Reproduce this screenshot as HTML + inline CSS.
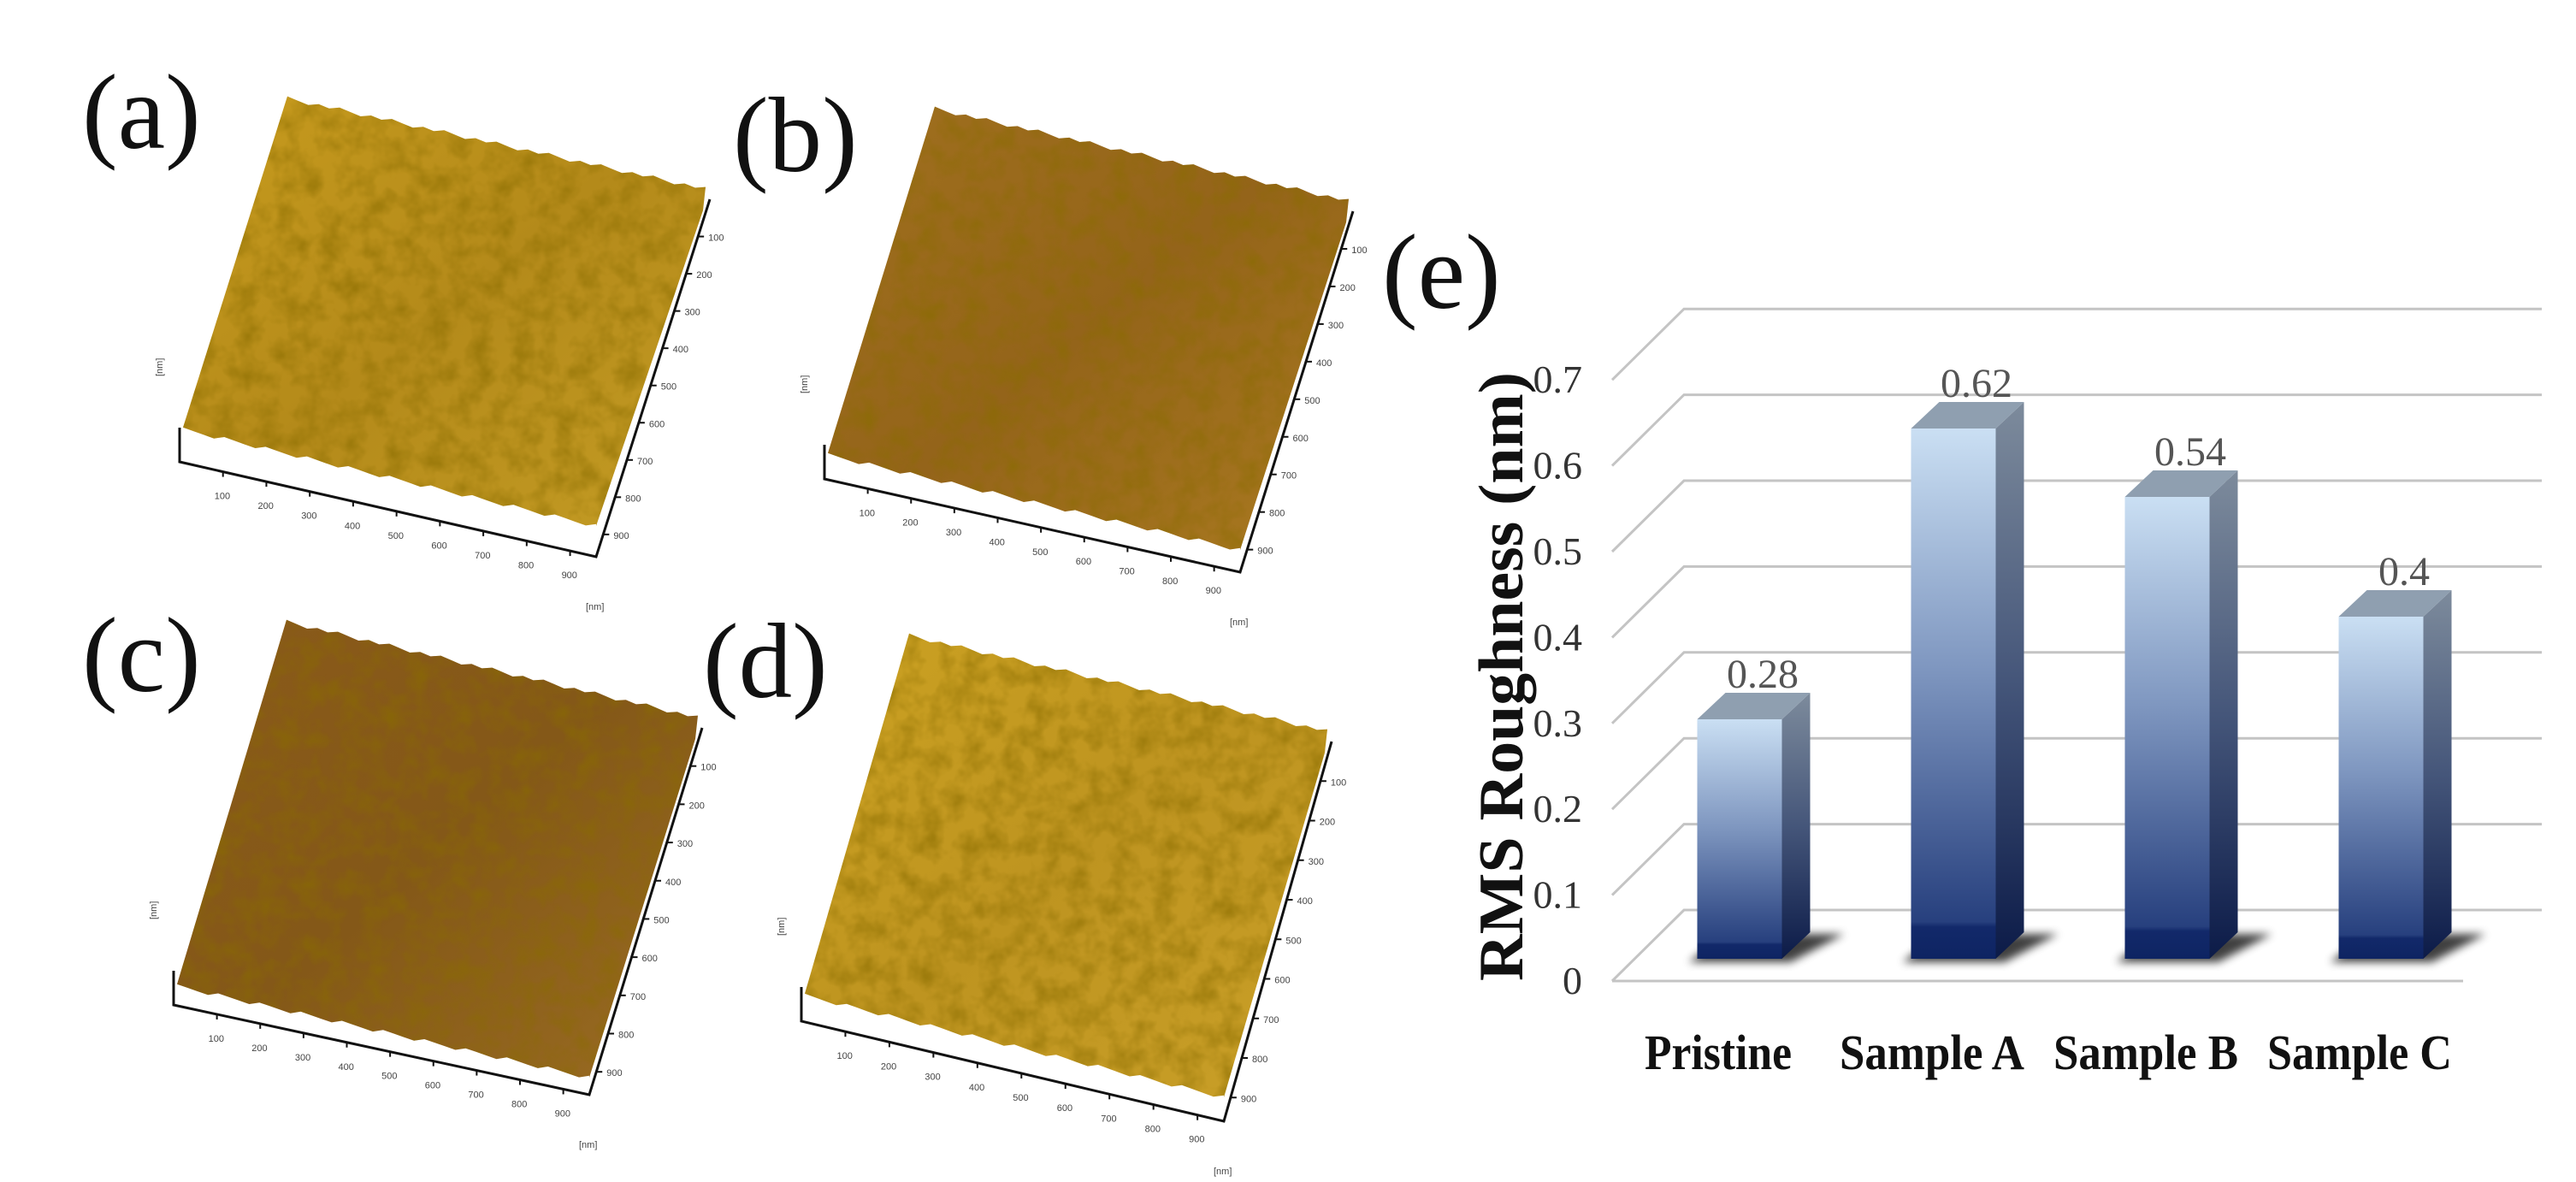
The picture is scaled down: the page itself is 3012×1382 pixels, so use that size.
<!DOCTYPE html>
<html><head><meta charset="utf-8">
<style>
html,body{margin:0;padding:0;background:#fff;}
svg{display:block;}
</style></head>
<body>
<svg id="fig" width="3012" height="1382" viewBox="0 0 3012 1382" xmlns="http://www.w3.org/2000/svg">
<defs>
  <filter id="tex" x="0" y="0" width="100%" height="100%">
    <feTurbulence type="fractalNoise" baseFrequency="0.04" numOctaves="3" seed="4" result="n"/>
    <feColorMatrix in="n" type="matrix" values="0 0 0 0 0.25  0 0 0 0 0.15  0 0 0 0 0  0 0 0 -2 1.25" result="d"/>
    <feComposite in="d" in2="SourceGraphic" operator="in"/>
  </filter>
  <linearGradient id="gA" x1="0" y1="0" x2="1" y2="1"><stop offset="0" stop-color="#c89c1e"/><stop offset="0.5" stop-color="#b48a1a"/><stop offset="1" stop-color="#c49c24"/></linearGradient>
  <linearGradient id="gB" x1="0" y1="0" x2="1" y2="1"><stop offset="0" stop-color="#a0701e"/><stop offset="0.5" stop-color="#94641a"/><stop offset="1" stop-color="#aa7a20"/></linearGradient>
  <linearGradient id="gC" x1="0" y1="0" x2="1" y2="1"><stop offset="0" stop-color="#8a5a1a"/><stop offset="0.5" stop-color="#845818"/><stop offset="1" stop-color="#9a6c22"/></linearGradient>
  <linearGradient id="gD" x1="0" y1="0" x2="1" y2="1"><stop offset="0" stop-color="#cca222"/><stop offset="0.5" stop-color="#be9420"/><stop offset="1" stop-color="#caa028"/></linearGradient>
  <linearGradient id="barFront" x1="0" y1="0" x2="0" y2="1"><stop offset="0" stop-color="#cadff3"/><stop offset="0.45" stop-color="#7f97c0"/><stop offset="0.93" stop-color="#27407e"/><stop offset="0.94" stop-color="#12296a"/><stop offset="1" stop-color="#0e2462"/></linearGradient>
  <linearGradient id="barSide" x1="0" y1="0" x2="0" y2="1"><stop offset="0" stop-color="#7d8b9c"/><stop offset="0.5" stop-color="#45567a"/><stop offset="1" stop-color="#0c1b48"/></linearGradient>
  <filter id="blur" x="-20%" y="-50%" width="140%" height="200%"><feGaussianBlur stdDeviation="5"/></filter>
</defs>

<g font-family="Liberation Serif, serif" font-size="125" fill="#111">
  <text x="96" y="173">(a)</text>
  <text x="857" y="200">(b)</text>
  <text x="96" y="808">(c)</text>
  <text x="822" y="815">(d)</text>
  <text x="1616" y="360">(e)</text>
</g>

<g id="afm"></g>
<g id="chart"></g>

<script>
const NS='http://www.w3.org/2000/svg';
function mk(tag,attrs,parent){const e=document.createElementNS(NS,tag);for(const k in attrs)e.setAttribute(k,attrs[k]);parent.appendChild(e);return e;}

const panels=[
 {id:'a',g:'gA',TL:[336,115],TR:[825,221],BR:[697,651],BL:[210,540],lift:38},
 {id:'b',g:'gB',TL:[1093,127],TR:[1577,235],BR:[1450,669],BL:[964,560],lift:28},
 {id:'c',g:'gC',TL:[335,727],TR:[816,839],BR:[689,1280],BL:[203,1175],lift:22},
 {id:'d',g:'gD',TL:[1063,743],TR:[1552,855],BR:[1431,1311],BL:[937,1194],lift:30}
];
const afm=document.getElementById('afm');
panels.forEach(p=>{
  const g=mk('g',{},afm);
  
  
  const sBL=[p.BL[0]+4,p.BL[1]-p.lift], sBR=[p.BR[0],p.BR[1]-p.lift+2];
  let pts=[];
  const N=40;
  for(let i=0;i<=N;i++){const t=i/N;const x=p.TL[0]+(p.TR[0]-p.TL[0])*t;const y=p.TL[1]+(p.TR[1]-p.TL[1])*t+((i*7)%5-2)*1.2;pts.push([x,y]);}
  pts.push([p.TR[0]-3,p.TR[1]+25]);
  pts.push(sBR);
  for(let i=N;i>=0;i--){const t=i/N;const x=sBL[0]+(sBR[0]-sBL[0])*t;const y=sBL[1]+(sBR[1]-sBL[1])*t+((i*5)%4-1.5)*1.5;pts.push([x,y]);}
  const d=pts.map(q=>q[0].toFixed(1)+','+q[1].toFixed(1)).join(' ');
  const surf=mk('polygon',{points:d,fill:'url(#'+p.g+')'},g);
  
  
  mk('polygon',{points:d,fill:'#000',filter:'url(#tex)',opacity:'0.6'},g);
  mk('polyline',{points:`${p.BL[0]},${p.BL[1]-40} ${p.BL[0]},${p.BL[1]} ${p.BR[0]},${p.BR[1]} ${p.TR[0]+5},${p.TR[1]+12}`,fill:'none',stroke:'#111','stroke-width':3},g);
  const vals=[100,200,300,400,500,600,700,800,900];
  vals.forEach((v,i)=>{
    const t=(i+1)/9.6;
    const x=p.BL[0]+(p.BR[0]-p.BL[0])*t, y=p.BL[1]+(p.BR[1]-p.BL[1])*t;
    mk('line',{x1:x,y1:y,x2:x,y2:y+6,stroke:'#111','stroke-width':2},g);
    const tx=mk('text',{x:x-10,y:y+32,'font-size':11,'font-family':'Liberation Sans, sans-serif',fill:'#444'},g);tx.textContent=v;
    const x2=p.BR[0]+(p.TR[0]+5-p.BR[0])*(1-t), y2=p.BR[1]+(p.TR[1]+12-p.BR[1])*(1-t);
    mk('line',{x1:x2,y1:y2,x2:x2+7,y2:y2,stroke:'#111','stroke-width':2},g);
    const ty=mk('text',{x:x2+12,y:y2+5,'font-size':11,'font-family':'Liberation Sans, sans-serif',fill:'#444'},g);ty.textContent=v;
  });
  const u1=mk('text',{x:p.BR[0]-12,y:p.BR[1]+62,'font-size':11,'font-family':'Liberation Sans, sans-serif',fill:'#444'},g);u1.textContent='[nm]';
  const u2=mk('text',{x:p.BL[0]-20,y:p.BL[1]-100,'font-size':11,'font-family':'Liberation Sans, sans-serif',fill:'#444',transform:`rotate(-90 ${p.BL[0]-20} ${p.BL[1]-100})`},g);u2.textContent='[nm]';
});

const categories=['Pristine','Sample A','Sample B','Sample C'];
const values=[0.28,0.62,0.54,0.4];
const valueLabels=['0.28','0.62','0.54','0.4'];
const yTicks=[0,0.1,0.2,0.3,0.4,0.5,0.6,0.7];
const yTickLabels=['0','0.1','0.2','0.3','0.4','0.5','0.6','0.7'];

const chart=document.getElementById('chart');
const backY=v=>1064-v*1004;
const frontY=v=>1147-v*1004;
const barY=v=>1121-v*1000;
const xC=i=>2034+i*250;
const BW=99, DX=33, DY=-31;

yTicks.forEach((v,i)=>{
  const yb=backY(v);
  const gl=mk('polyline',{points:`1885,${yb+83} 1969,${yb} 2972,${yb}`,fill:'none',stroke:'#c4c4c4','stroke-width':3},chart);
  
  
  const t=mk('text',{x:1850,y:frontY(v)+15,'text-anchor':'end','font-family':'Liberation Serif, serif','font-size':46,fill:'#333'},chart);
  
  
  t.textContent=yTickLabels[i];
});
const floor=mk('line',{x1:1885,y1:frontY(0),x2:2880,y2:frontY(0),stroke:'#c4c4c4','stroke-width':3},chart);



values.forEach((v,i)=>{
  const g=mk('g',{},chart);
  
  
  const x0=xC(i)-BW/2, x1=x0+BW, yt=barY(v), yb=barY(0);
  mk('polygon',{points:`${x0-10},${yb+4} ${x1+10},${yb+4} ${x1+DX+40},${yb+DY+2} ${x0+DX},${yb+DY+2}`,fill:'#000',opacity:'0.75',filter:'url(#blur)'},g);
  mk('rect',{x:x0,y:yt,width:BW,height:yb-yt,fill:'url(#barFront)'},g);
  mk('polygon',{points:`${x1},${yt} ${x1+DX},${yt+DY} ${x1+DX},${yb+DY} ${x1},${yb}`,fill:'url(#barSide)'},g);
  mk('polygon',{points:`${x0},${yt} ${x0+DX},${yt+DY} ${x1+DX},${yt+DY} ${x1},${yt}`,fill:'#8f9fb0'},g);
  const vl=mk('text',{x:xC(i)+27,y:yt-37,'text-anchor':'middle','font-family':'Liberation Serif, serif','font-size':48,fill:'#555'},chart);
  
  
  vl.textContent=valueLabels[i];
  const cl=mk('text',{x:xC(i)-25,y:1250,'text-anchor':'middle','font-family':'Liberation Serif, serif','font-weight':'bold','font-size':58,fill:'#111',textLength:i===0?172:216,lengthAdjust:'spacingAndGlyphs'},chart);
  
  
  cl.textContent=categories[i];
});

const yt=mk('text',{x:0,y:0,'text-anchor':'middle','font-family':'Liberation Serif, serif','font-weight':'bold','font-size':74,fill:'#111',textLength:712,lengthAdjust:'spacingAndGlyphs',transform:'translate(1780,791) rotate(-90)'},chart);


yt.textContent='RMS Roughness (nm)';
</script>
</svg>
</body></html>
